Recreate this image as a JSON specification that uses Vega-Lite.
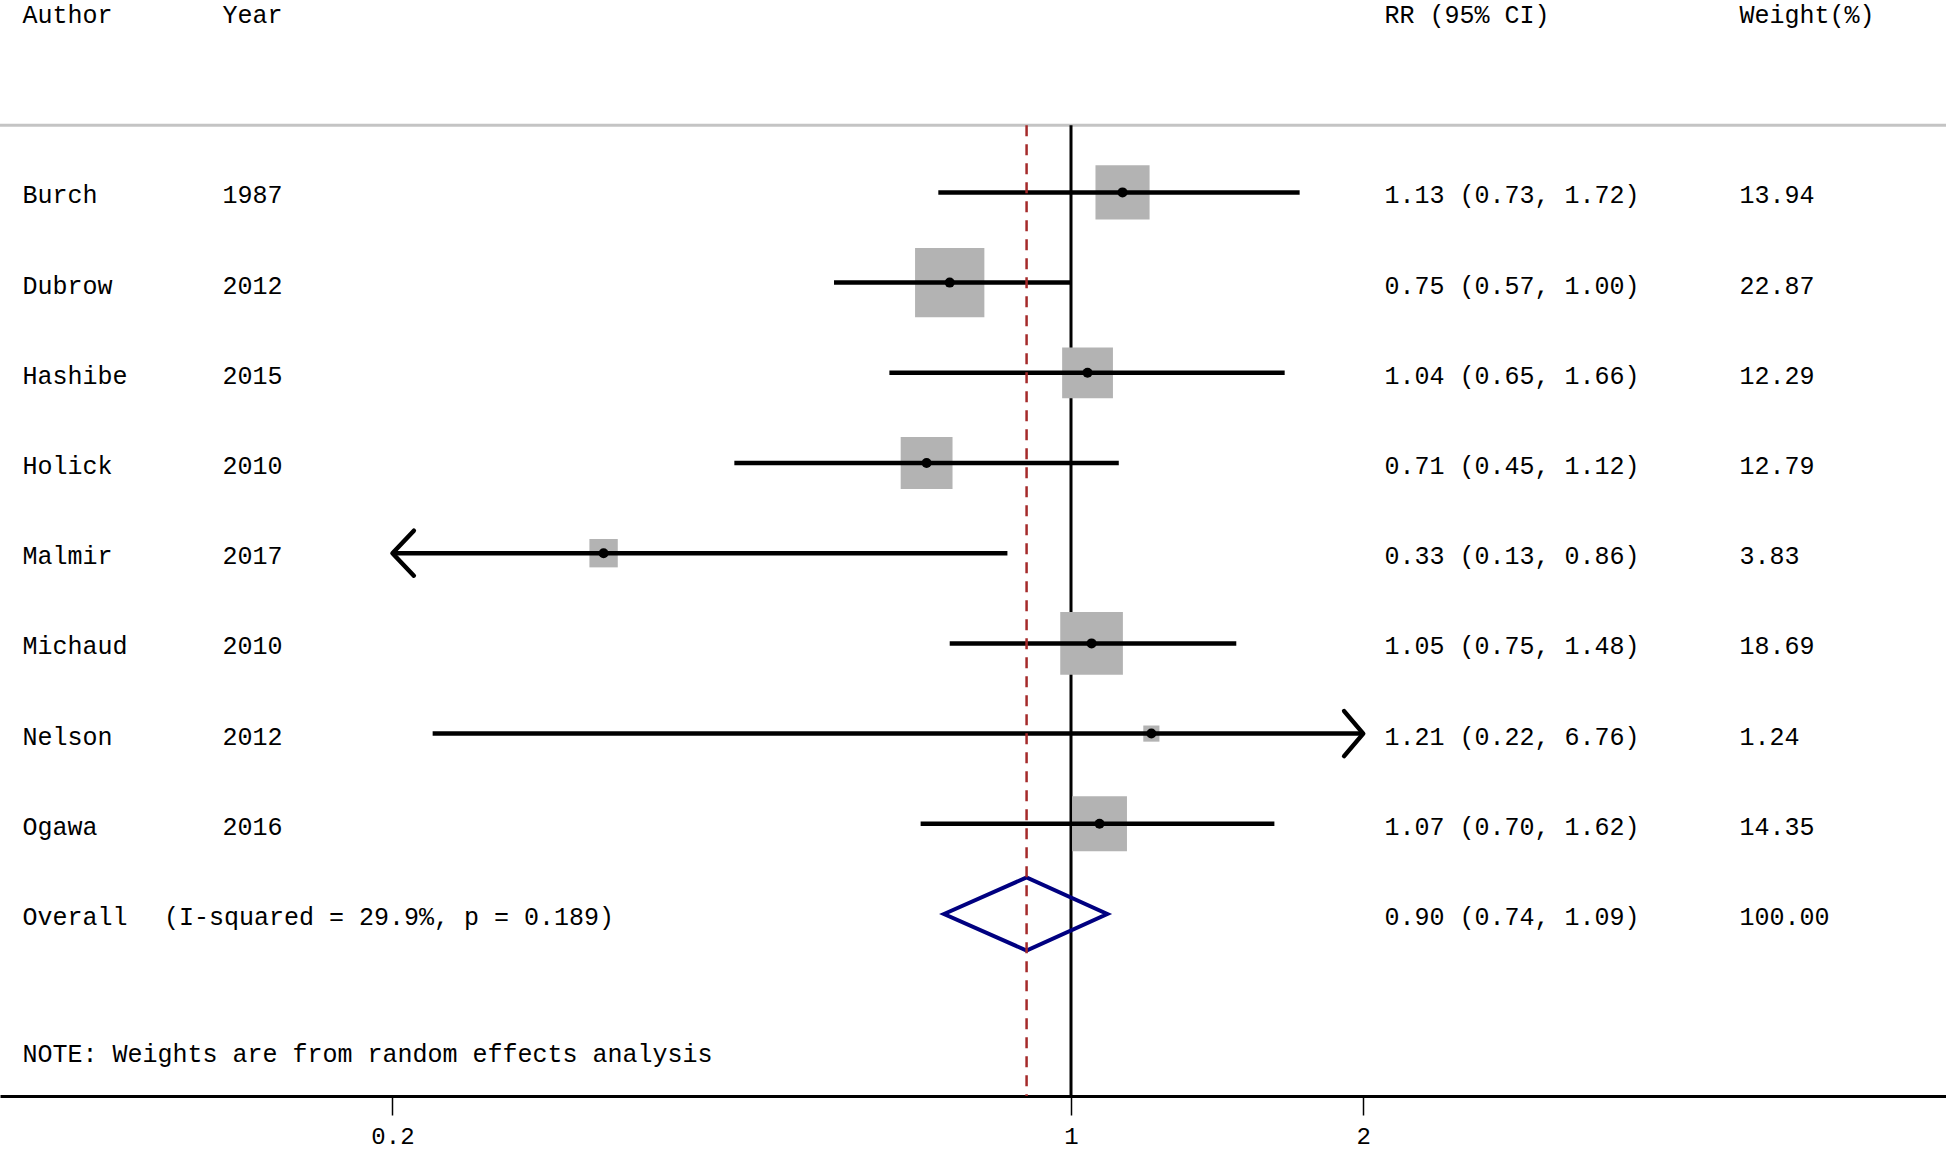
{
  "$schema": "https://vega.github.io/schema/vega-lite/v6.json",
  "width": 1946,
  "height": 1096,
  "autosize": {"type": "none"},
  "padding": {"left": 0, "top": 0, "right": 0, "bottom": 57},
  "background": "white",
  "config": {
    "view": {"stroke": null},
    "text": {"font": "Liberation Mono", "fontSize": 25, "color": "black", "align": "left", "baseline": "middle", "dy": 3},
    "axisY": {"disable": true}
  },
  "datasets": {
    "rows": [
      {"kind": "study", "row": 1, "author": "Burch", "year": "1987", "rr": 1.13, "lo": 0.73, "hi": 1.72, "lo_draw": 0.73, "hi_draw": 1.72, "w": 13.94, "rrtext": "1.13 (0.73, 1.72)", "wtext": "13.94"},
      {"kind": "study", "row": 2, "author": "Dubrow", "year": "2012", "rr": 0.75, "lo": 0.57, "hi": 1.00, "lo_draw": 0.57, "hi_draw": 1.00, "w": 22.87, "rrtext": "0.75 (0.57, 1.00)", "wtext": "22.87"},
      {"kind": "study", "row": 3, "author": "Hashibe", "year": "2015", "rr": 1.04, "lo": 0.65, "hi": 1.66, "lo_draw": 0.65, "hi_draw": 1.66, "w": 12.29, "rrtext": "1.04 (0.65, 1.66)", "wtext": "12.29"},
      {"kind": "study", "row": 4, "author": "Holick", "year": "2010", "rr": 0.71, "lo": 0.45, "hi": 1.12, "lo_draw": 0.45, "hi_draw": 1.12, "w": 12.79, "rrtext": "0.71 (0.45, 1.12)", "wtext": "12.79"},
      {"kind": "study", "row": 5, "author": "Malmir", "year": "2017", "rr": 0.33, "lo": 0.13, "hi": 0.86, "lo_draw": 0.2, "hi_draw": 0.86, "w": 3.83, "rrtext": "0.33 (0.13, 0.86)", "wtext": "3.83"},
      {"kind": "study", "row": 6, "author": "Michaud", "year": "2010", "rr": 1.05, "lo": 0.75, "hi": 1.48, "lo_draw": 0.75, "hi_draw": 1.48, "w": 18.69, "rrtext": "1.05 (0.75, 1.48)", "wtext": "18.69"},
      {"kind": "study", "row": 7, "author": "Nelson", "year": "2012", "rr": 1.21, "lo": 0.22, "hi": 6.76, "lo_draw": 0.22, "hi_draw": 2.0, "w": 1.24, "rrtext": "1.21 (0.22, 6.76)", "wtext": "1.24"},
      {"kind": "study", "row": 8, "author": "Ogawa", "year": "2016", "rr": 1.07, "lo": 0.70, "hi": 1.62, "lo_draw": 0.70, "hi_draw": 1.62, "w": 14.35, "rrtext": "1.07 (0.70, 1.62)", "wtext": "14.35"},
      {"kind": "overall", "row": 9, "author": "Overall", "year": "(I-squared = 29.9%, p = 0.189)", "rr": 0.90, "lo": 0.74, "hi": 1.09, "lo_draw": 0.74, "hi_draw": 1.09, "w": 100, "rrtext": "0.90 (0.74, 1.09)", "wtext": "100.00"}
    ],
    "arrows": [
      {"row": 5, "at": 0.2, "dir": "left"},
      {"row": 7, "at": 2.0, "dir": "right"}
    ]
  },
  "layer": [
    {
      "data": {"values": [{}]},
      "mark": {"type": "rule", "color": "#c4c4c4", "strokeWidth": 3},
      "encoding": {"y": {"datum": 0.256, "type": "quantitative", "axis": null}}
    },
    {
      "data": {"values": [{}]},
      "mark": {"type": "rule", "color": "black", "strokeWidth": 3},
      "encoding": {
        "x": {"datum": 1, "type": "quantitative"},
        "y": {"datum": 0.256, "type": "quantitative", "axis": null},
        "y2": {"datum": 11.018}
      }
    },
    {
      "data": {"name": "rows"},
      "transform": [{"filter": "datum.kind === 'study'"}],
      "mark": {"type": "point", "shape": "square", "filled": true, "color": "#b3b3b3", "opacity": 1},
      "encoding": {
        "x": {
          "field": "rr", "type": "quantitative",
          "scale": {"type": "log", "domain": [0.07884, 7.968], "nice": false, "zero": false},
          "axis": {"values": [0.2, 1, 2], "format": "~g", "title": null, "grid": false, "ticks": true, "tickSize": 19, "tickColor": "black", "tickWidth": 1.5, "domain": true, "domainColor": "black", "domainWidth": 3, "labelFont": "Liberation Mono", "labelFontSize": 24, "labelColor": "black", "labelPadding": 9, "labelFlush": false, "labelOverlap": false}
        },
        "y": {
          "field": "row", "type": "quantitative",
          "scale": {"domain": [-1.133, 11.018], "reverse": true, "nice": false, "zero": false},
          "axis": null
        },
        "size": {"field": "w", "type": "quantitative", "scale": {"type": "linear", "domain": [0, 100], "range": [0, 21000], "zero": true}, "legend": null}
      }
    },
    {
      "data": {"name": "rows"},
      "transform": [{"filter": "datum.kind === 'study'"}],
      "mark": {"type": "rule", "color": "black", "strokeWidth": 4.5},
      "encoding": {
        "x": {"field": "lo_draw", "type": "quantitative"},
        "x2": {"field": "hi_draw"},
        "y": {"field": "row", "type": "quantitative", "axis": null}
      }
    },
    {
      "data": {"name": "rows"},
      "transform": [{"filter": "datum.kind === 'study'"}],
      "mark": {"type": "point", "shape": "circle", "filled": true, "color": "black", "size": 100, "opacity": 1},
      "encoding": {
        "x": {"field": "rr", "type": "quantitative"},
        "y": {"field": "row", "type": "quantitative", "axis": null}
      }
    },
    {
      "data": {"name": "arrows"},
      "mark": {"type": "point", "filled": false, "color": "black", "strokeWidth": 4.5, "size": 2025, "opacity": 1, "strokeCap": "round", "strokeJoin": "round"},
      "encoding": {
        "x": {"field": "at", "type": "quantitative"},
        "y": {"field": "row", "type": "quantitative", "axis": null},
        "shape": {"field": "dir", "type": "nominal", "scale": {"domain": ["left", "right"], "range": ["M 0.95 -1 L 0 0 L 0.95 1", "M -0.85 -1 L 0 0 L -0.85 1"]}, "legend": null}
      }
    },
    {
      "data": {"name": "rows"},
      "transform": [{"filter": "datum.kind === 'overall'"}],
      "mark": {"type": "point", "filled": false, "color": "#000080", "strokeWidth": 4, "size": 27291, "opacity": 1, "strokeJoin": "miter", "shape": "M -1 0 L 0 -0.443 L 0.977 0 L 0 0.443 Z"},
      "encoding": {
        "x": {"field": "rr", "type": "quantitative"},
        "y": {"field": "row", "type": "quantitative", "axis": null}
      }
    },
    {
      "data": {"values": [{}]},
      "mark": {"type": "rule", "color": "#a52a2a", "strokeWidth": 2.5, "strokeDash": [11, 8]},
      "encoding": {
        "x": {"datum": 0.90, "type": "quantitative"},
        "y": {"datum": 0.256, "type": "quantitative", "axis": null},
        "y2": {"datum": 11.018}
      }
    },
    {
      "data": {"values": [{}]},
      "mark": {"type": "text", "text": "Author"},
      "encoding": {"x": {"datum": 0.08316, "type": "quantitative"}, "y": {"datum": -1.0, "type": "quantitative", "axis": null}}
    },
    {
      "data": {"values": [{}]},
      "mark": {"type": "text", "text": "Year"},
      "encoding": {"x": {"datum": 0.13366, "type": "quantitative"}, "y": {"datum": -1.0, "type": "quantitative", "axis": null}}
    },
    {
      "data": {"values": [{}]},
      "mark": {"type": "text", "text": "RR (95% CI)"},
      "encoding": {"x": {"datum": 2.1035, "type": "quantitative"}, "y": {"datum": -1.0, "type": "quantitative", "axis": null}}
    },
    {
      "data": {"values": [{}]},
      "mark": {"type": "text", "text": "Weight(%)"},
      "encoding": {"x": {"datum": 4.8823, "type": "quantitative"}, "y": {"datum": -1.0, "type": "quantitative", "axis": null}}
    },
    {
      "data": {"name": "rows"},
      "mark": {"type": "text"},
      "encoding": {"x": {"datum": 0.08316, "type": "quantitative"}, "y": {"field": "row", "type": "quantitative", "axis": null}, "text": {"field": "author"}}
    },
    {
      "data": {"name": "rows"},
      "transform": [{"filter": "datum.kind === 'study'"}],
      "mark": {"type": "text"},
      "encoding": {"x": {"datum": 0.13366, "type": "quantitative"}, "y": {"field": "row", "type": "quantitative", "axis": null}, "text": {"field": "year"}}
    },
    {
      "data": {"name": "rows"},
      "transform": [{"filter": "datum.kind === 'overall'"}],
      "mark": {"type": "text"},
      "encoding": {"x": {"datum": 0.1163, "type": "quantitative"}, "y": {"field": "row", "type": "quantitative", "axis": null}, "text": {"field": "year"}}
    },
    {
      "data": {"name": "rows"},
      "mark": {"type": "text"},
      "encoding": {"x": {"datum": 2.1035, "type": "quantitative"}, "y": {"field": "row", "type": "quantitative", "axis": null}, "text": {"field": "rrtext"}}
    },
    {
      "data": {"name": "rows"},
      "mark": {"type": "text"},
      "encoding": {"x": {"datum": 4.8823, "type": "quantitative"}, "y": {"field": "row", "type": "quantitative", "axis": null}, "text": {"field": "wtext"}}
    },
    {
      "data": {"values": [{}]},
      "mark": {"type": "text", "text": "NOTE: Weights are from random effects analysis"},
      "encoding": {"x": {"datum": 0.08316, "type": "quantitative"}, "y": {"datum": 10.519, "type": "quantitative", "axis": null}}
    }
  ]
}
